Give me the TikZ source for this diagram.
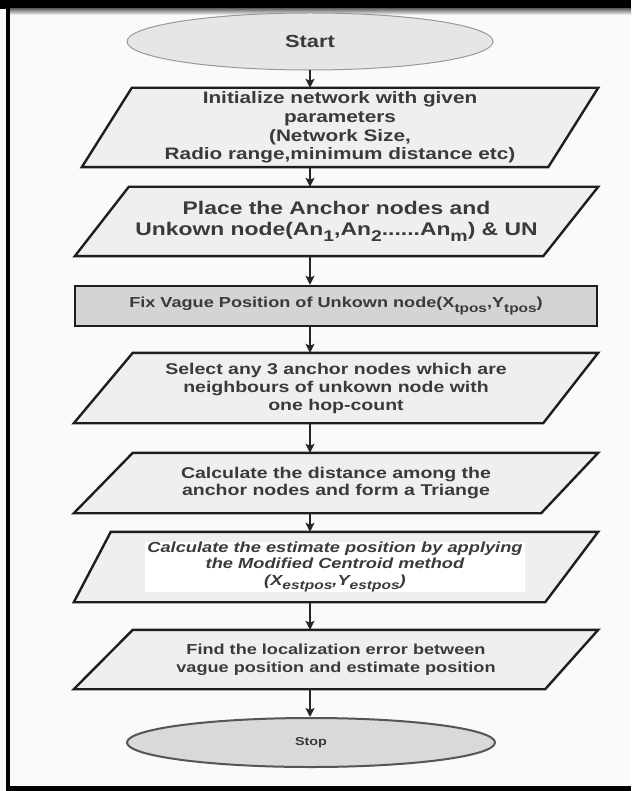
\documentclass[tikz,border=0pt]{standalone}
\usepackage{fontspec}
\usepackage{graphicx}
\setmainfont{Liberation Sans}
\newfontfamily\dfont[FakeStretch=1.25]{Liberation Sans}
\usetikzlibrary{shapes.geometric,arrows.meta,backgrounds}
\definecolor{bg}{HTML}{FAFAFA}
\definecolor{pfill}{HTML}{EFEFEF}
\definecolor{rfill}{HTML}{D4D4D4}
\definecolor{sfill}{HTML}{E6E6E6}
\definecolor{sedge}{HTML}{999999}
\definecolor{tfill}{HTML}{D9D9D9}
\definecolor{tedge}{HTML}{555555}
\definecolor{tcol}{HTML}{3A3A3A}
\definecolor{edgec}{HTML}{1E1E1E}
\newcommand\dsub[1]{\raisebox{-0.3em}{\scalebox{0.85}{#1}}}
\newcommand\dfs[2]{\dfont\bfseries\fontsize{#1}{#2}\selectfont}
\tikzset{
  pbox/.style={inner sep=0pt, align=center, text=tcol},
  term/.style={ellipse, inner sep=0pt, text=tcol},
  arr/.style={-{Stealth[length=9pt,width=9pt,inset=2pt]}, line width=1.8pt, draw=black!85},
  pedge/.style={fill=pfill, draw=edgec, line width=2.4pt, line join=miter},
}
\newcommand\paral[3]{\path[pedge] ([xshift=#2]#1.north west) -- (#1.north east) -- ([xshift=-#3]#1.south east) -- (#1.south west) -- cycle;}
\begin{document}
\begin{tikzpicture}[x=1pt,y=-1pt]
\useasboundingbox (0,0) rectangle (631,791);
\coordinate (ax) at (310,0);

% nodes
\node[term, fill=sfill, draw=sedge, line width=1pt, minimum width=366pt, minimum height=57pt, font=\dfs{17.5}{20}] (start) at (310,41.5) {Start};

\node[pbox, minimum width=516pt, minimum height=79pt, font=\dfs{16.6}{18.6}] (p1) at (340,127.5)
  {Initialize network with given\\parameters\\(Network Size,\\Radio range,minimum distance etc)};

\node[pbox, minimum width=523pt, minimum height=69pt, font=\dfs{18.3}{21}] (p2) at (336.5,221.5)
  {Place the Anchor nodes and\\Unkown node(An\dsub{1},An\dsub{2}......An\dsub{m}) \& UN};

\node[pbox, draw=edgec, fill=rfill, line width=2.4pt, minimum width=522pt, minimum height=40pt, font=\dfs{14.5}{17}] (fix) at (336,306)
  {Fix Vague Position of Unkown node(X\dsub{tpos},Y\dsub{tpos})};

\node[pbox, minimum width=524pt, minimum height=70pt, font=\dfs{15.6}{18}] (p3) at (336,388)
  {Select any 3 anchor nodes which are\\neighbours of unkown node with\\one hop-count};

\node[pbox, minimum width=524pt, minimum height=60pt, font=\dfs{15.6}{17.5}] (p4) at (336,483)
  {Calculate the distance among the\\anchor nodes and form a Triange};

\node[pbox, minimum width=524pt, minimum height=70pt] (p5) at (336,567) {};
\node[pbox, fill=white, minimum width=380pt, minimum height=50pt, font=\dfs{14.6}{16.5}\itshape] (p5t) at (335,567)
  {Calculate the estimate position by applying\\the Modified Centroid method\\(X\dsub{estpos},Y\dsub{estpos})};

\node[pbox, minimum width=524pt, minimum height=59pt, font=\dfs{14.5}{18}] (p6) at (336,659.5)
  {Find the localization error between\\vague position and estimate position};

\node[term, fill=tfill, draw=tedge, line width=2pt, minimum width=368pt, minimum height=49pt, font=\dfs{11.5}{14}] (stop) at (311,742.5) {Stop};

% frame and parallelogram outlines, behind the texts
\begin{scope}[on background layer]
\fill[bg] (0,0) rectangle (631,791);
\fill[black] (0,0) rectangle (631,9);
\shade[top color=black!55, bottom color=bg] (10,9) rectangle (631,15);
\fill[black] (6,0) rectangle (10,791);
\fill[black] (6,786) rectangle (631,791);
\paral{p1}{50}{50}
\paral{p2}{54}{55}
\paral{p3}{59}{55}
\paral{p4}{59}{57}
\paral{p5}{37}{53}
\paral{p6}{59}{53}
\end{scope}

% connectors
\draw[arr] (start.south) -- (start.south |- p1.north);
\draw[arr] (p1.south -| ax) -- (p2.north -| ax);
\draw[arr] (p2.south -| ax) -- (fix.north -| ax);
\draw[arr] (fix.south -| ax) -- (p3.north -| ax);
\draw[arr] (p3.south -| ax) -- (p4.north -| ax);
\draw[arr] (p4.south -| ax) -- (p5.north -| ax);
\draw[arr] (p5.south -| ax) -- (p6.north -| ax);
\draw[arr] (p6.south -| ax) -- (stop.north -| ax);
\end{tikzpicture}
\end{document}
